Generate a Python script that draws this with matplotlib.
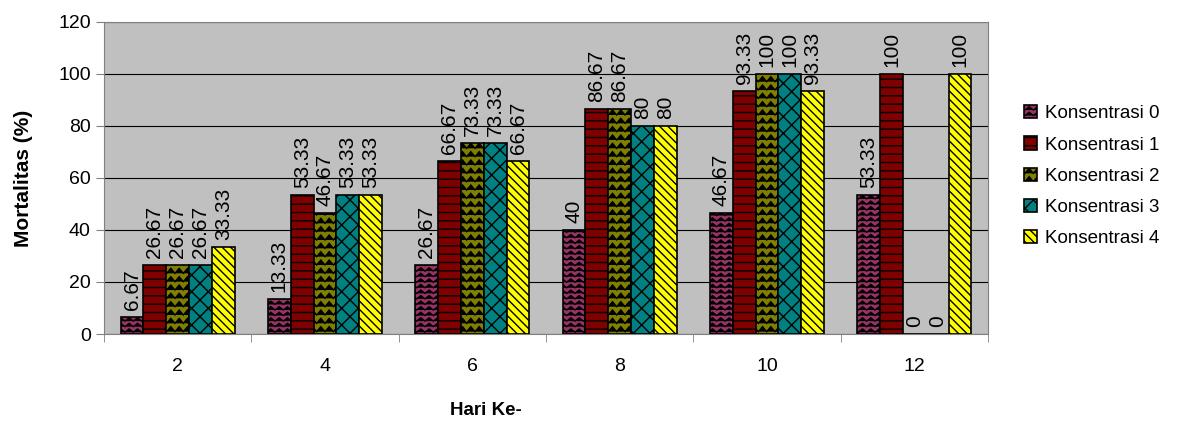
import numpy as np
import matplotlib.pyplot as plt
import matplotlib as mpl
import matplotlib.hatch as mhatch
from matplotlib.path import Path

mpl.rcParams['hatch.linewidth'] = 1.0
mpl.rcParams['font.family'] = ['Liberation Sans', 'DejaVu Sans']

days = ["2", "4", "6", "8", "10", "12"]
k0 = [6.67, 13.33, 26.67, 40, 46.67, 53.33]
k1 = [26.67, 53.33, 66.67, 86.67, 93.33, 100]
k2 = [26.67, 46.67, 73.33, 86.67, 100, 0]
k3 = [26.67, 53.33, 73.33, 80, 100, 0]
k4 = [33.33, 53.33, 66.67, 80, 93.33, 100]

series = [k0, k1, k2, k3, k4]
names = ["Konsentrasi 0", "Konsentrasi 1", "Konsentrasi 2", "Konsentrasi 3", "Konsentrasi 4"]
colors = ["#993366", "#800000", "#808000", "#008080", "#FFFF00"]
hatches = ["***", "--", "**", "xx", "\\\\\\\\"]


# zigzag hatch in place of the star pattern ('*')
class ZigZagHatch(mhatch.HatchPatternBase):
    def __init__(self, hatch, density):
        self.num_lines = int(hatch.count('*') * density)
        self.teeth = 12
        self.num_vertices = self.num_lines * (2 * self.teeth + 1)

    def set_vertices_and_codes(self, vertices, codes):
        n = 2 * self.teeth + 1
        xs = np.linspace(0, 1, n)
        amp = 0.3 / self.num_lines
        sign = np.where(np.arange(n) % 2 == 0, -1.0, 1.0)
        for i in range(self.num_lines):
            y = (i + 0.5) / self.num_lines
            vertices[i * n:(i + 1) * n, 0] = xs
            vertices[i * n:(i + 1) * n, 1] = y + amp * sign
            codes[i * n] = Path.MOVETO
            codes[i * n + 1:(i + 1) * n] = Path.LINETO


mhatch._hatch_types[-1] = ZigZagHatch

fig = plt.figure(figsize=(11.78, 4.23), dpi=100)
ax = fig.add_axes([0.0883, 0.2104, 0.7504, 0.7376])
ax.set_facecolor("#C0C0C0")

x = np.arange(len(days))
w = 0.155
for i, (vals, name) in enumerate(zip(series, names)):
    pos = x + (i - 2) * w
    ax.bar(pos, vals, w, color=colors[i], edgecolor="black", linewidth=1.2,
           hatch=hatches[i], label=name, zorder=3)
    for p, v in zip(pos, vals):
        ax.annotate(f"{v:g}", (p, v), xytext=(0, 5), textcoords="offset points",
                    rotation=90, ha="center", va="bottom", fontsize=15, zorder=4)

ax.set_ylim(0, 120)
ax.set_xlim(-0.5, len(days) - 0.5)
ax.set_yticks(range(0, 121, 20))
ax.yaxis.grid(True, color="black", linewidth=0.8, zorder=0)
ax.set_xticks(x)
ax.set_xticklabels(days, fontsize=14)
ax.set_xticks(np.arange(-0.5, len(days), 1), minor=True)
ax.tick_params(axis="x", which="major", length=0, pad=17)
ax.tick_params(axis="x", which="minor", length=6, color="gray")
ax.tick_params(axis="y", labelsize=14, length=6, color="gray")
for s in ax.spines.values():
    s.set_color("gray")

ax.set_ylabel("Mortalitas (%)", fontsize=15, fontweight="bold", labelpad=18)
ax.set_xlabel("Hari Ke-", fontsize=13.5, fontweight="bold", va="center")
ax.xaxis.set_label_coords(0.432, -0.244)

ax.legend(loc="center left", bbox_to_anchor=(1.022, 0.506), frameon=False, fontsize=13.5,
          handlelength=0.7, handleheight=0.7, handletextpad=0.4, labelspacing=0.75)

fig.savefig("out.png", dpi=100)
